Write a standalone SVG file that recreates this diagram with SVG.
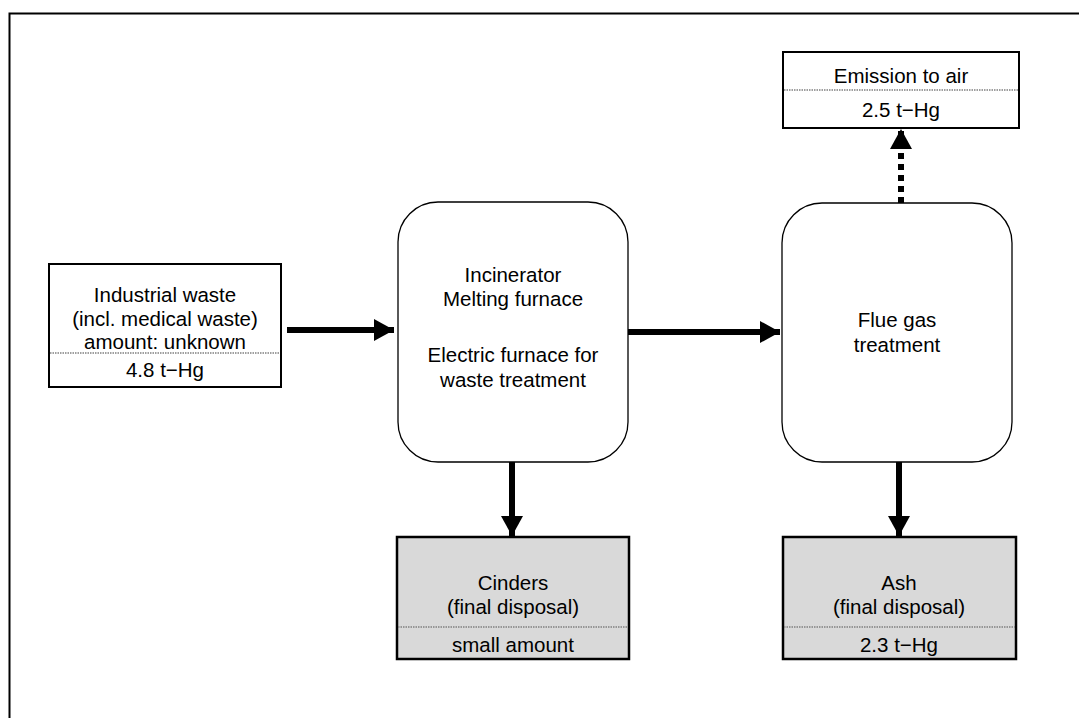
<svg xmlns="http://www.w3.org/2000/svg" width="1079" height="718" viewBox="0 0 1079 718">
  <style>
    .box { fill: #ffffff; stroke: #000000; stroke-width: 2; }
    .grey { fill: #d9d9d9; stroke: #000000; stroke-width: 2.5; }
    .proc { fill: #ffffff; stroke: #000000; stroke-width: 1.3; }
    .sep { stroke: #808080; stroke-width: 1.5; stroke-dasharray: 1.5 1; }
    .lbl { font-family: "Liberation Sans", Arial, sans-serif; font-size: 20.5px; fill: #000000; text-anchor: middle; }
    .flow { stroke: #000000; stroke-width: 6; fill: none; }
    .dots { stroke: #000000; stroke-width: 6; fill: none; stroke-dasharray: 6 5; }
  </style>
  <defs>
    <marker id="head" markerUnits="userSpaceOnUse" viewBox="0 0 20 22" refX="20" refY="11" markerWidth="20" markerHeight="22" orient="auto">
      <path d="M0,0 L20,11 L0,22 Z" fill="#000000"/>
    </marker>
  </defs>

  <rect width="1079" height="718" fill="#ffffff"/>
  <!-- outer frame -->
  <path d="M9.5,718 V13.5 H1079" fill="none" stroke="#000000" stroke-width="2"/>

  <g id="connectors">
    <line class="flow" x1="287" y1="330" x2="394" y2="330" marker-end="url(#head)"/>
    <line class="flow" x1="628" y1="332" x2="780" y2="332" marker-end="url(#head)"/>
    <line class="dots" x1="901" y1="203" x2="901" y2="129" marker-end="url(#head)"/>
    <line class="flow" x1="512" y1="462" x2="512" y2="536" marker-end="url(#head)"/>
    <line class="flow" x1="899" y1="462" x2="899" y2="536" marker-end="url(#head)"/>
  </g>

  <g id="industrial-waste">
    <rect class="box" x="49" y="264" width="232" height="123"/>
    <line class="sep" x1="50" y1="353" x2="280" y2="353"/>
    <text class="lbl" x="165" y="302">Industrial waste</text>
    <text class="lbl" x="165" y="326">(incl. medical waste)</text>
    <text class="lbl" x="165" y="349">amount: unknown</text>
    <text class="lbl" x="165" y="377">4.8 t−Hg</text>
  </g>

  <g id="incinerator">
    <rect class="proc" x="398" y="202" width="230" height="260" rx="40" ry="40"/>
    <text class="lbl" x="513" y="282">Incinerator</text>
    <text class="lbl" x="513" y="306">Melting furnace</text>
    <text class="lbl" x="513" y="362">Electric furnace for</text>
    <text class="lbl" x="513" y="387">waste treatment</text>
  </g>

  <g id="flue-gas">
    <rect class="proc" x="782" y="203" width="230" height="259" rx="40" ry="40"/>
    <text class="lbl" x="897" y="327">Flue gas</text>
    <text class="lbl" x="897" y="352">treatment</text>
  </g>

  <g id="emission">
    <rect class="box" x="783" y="52" width="236" height="76"/>
    <line class="sep" x1="784" y1="90" x2="1018" y2="90"/>
    <text class="lbl" x="901" y="83">Emission to air</text>
    <text class="lbl" x="901" y="117">2.5 t−Hg</text>
  </g>

  <g id="cinders">
    <rect class="grey" x="397" y="537" width="232" height="122"/>
    <line class="sep" x1="398" y1="627" x2="628" y2="627"/>
    <text class="lbl" x="513" y="590">Cinders</text>
    <text class="lbl" x="513" y="614">(final disposal)</text>
    <text class="lbl" x="513" y="652">small amount</text>
  </g>

  <g id="ash">
    <rect class="grey" x="783" y="537" width="233" height="122"/>
    <line class="sep" x1="784" y1="627" x2="1015" y2="627"/>
    <text class="lbl" x="899" y="590">Ash</text>
    <text class="lbl" x="899" y="614">(final disposal)</text>
    <text class="lbl" x="899" y="652">2.3 t−Hg</text>
  </g>
</svg>
